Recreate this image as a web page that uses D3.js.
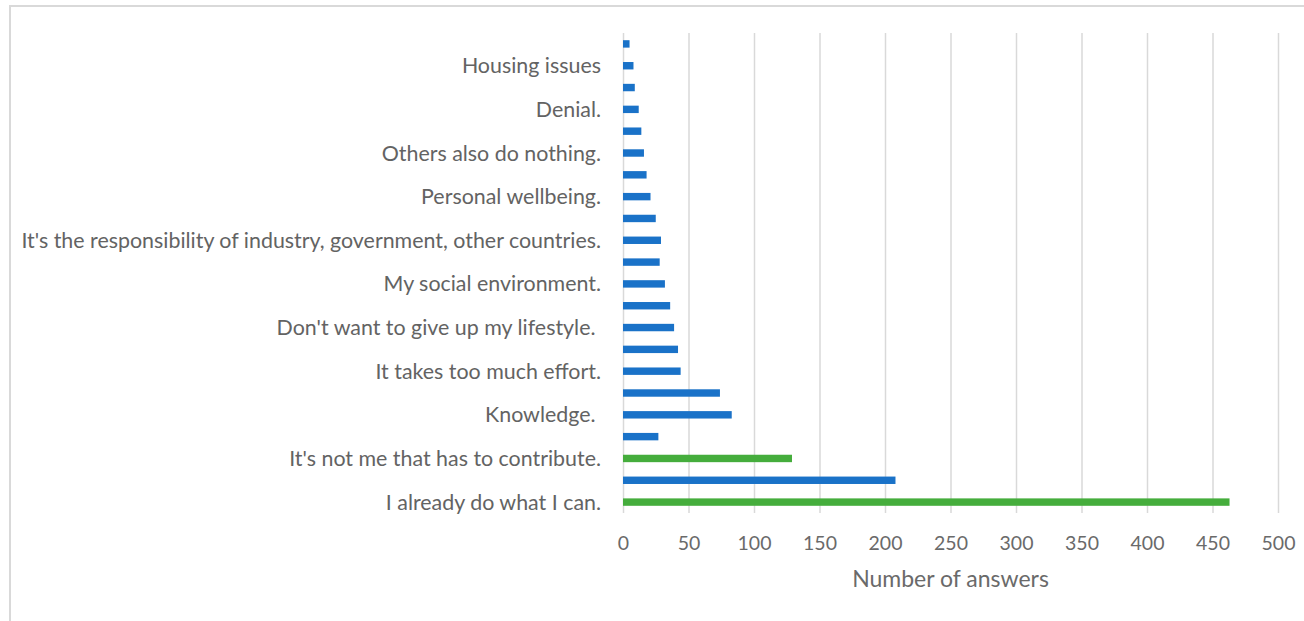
<!DOCTYPE html>
<html>
<head>
<meta charset="utf-8">
<script src="https://cdn.jsdelivr.net/npm/d3@7"></script>
<style>
  body { margin: 0; background: #fff; }
  text { font-family: Lato, "Open Sans", sans-serif; fill: #636363; }
</style>
</head>
<body>
<svg id="chart" width="1304" height="621"></svg>
<script>
// categories from bottom to top, only every other one carries a visible label
const categories = [
  'I already do what I can.', '', 'It\'s not me that has to contribute.', '',
  'Knowledge. ', '', 'It takes too much effort.', '',
  'Don\'t want to give up my lifestyle. ', '', 'My social environment.', '',
  'It\'s the responsibility of industry, government, other countries.', '',
  'Personal wellbeing.', '', 'Others also do nothing.', '',
  'Denial.', '', 'Housing issues', '',
];
const answers = [463, 208, 129, 27, 83, 74, 44, 42, 39, 36, 32, 28, 29, 25, 21, 18, 16, 14, 12, 9, 8, 5];
const highlighted = [0, 2];
const xTicks = [0, 50, 100, 150, 200, 250, 300, 350, 400, 450, 500];

const svg = d3.select('#chart');
const plot = { left: 623, right: 1278, top: 33, bottom: 513 };

// outer frame, cut off on the right and bottom
svg.append('rect')
  .attr('x', 10)
  .attr('y', 6)
  .attr('width', 1320)
  .attr('height', 640)
  .attr('fill', 'none')
  .attr('stroke', '#d9d9d9')
  .attr('stroke-width', 2);

const x = d3.scaleLinear().domain([0, 500]).range([plot.left, plot.right]);
const y = d3.scaleBand()
  .domain(d3.range(categories.length))
  .range([plot.bottom, plot.top])
  .paddingInner(0.66)
  .paddingOuter(0.33);

// gridlines + tick labels
const xAxis = d3.axisBottom(x)
  .tickValues(xTicks)
  .tickSizeInner(-(plot.bottom - plot.top))
  .tickSizeOuter(0);

const gx = svg.append('g')
  .attr('transform', `translate(0, ${plot.bottom})`)
  .call(xAxis);

gx.select('.domain').remove();
gx.selectAll('.tick line')
  .attr('stroke', '#d9d9d9')
  .attr('stroke-width', 1.5);
gx.selectAll('.tick text')
  .attr('y', 37)
  .attr('dy', null)
  .style('font-size', '19.5px')
  .style('fill', '#6a6a6a');

// bars
svg.append('g')
  .selectAll('rect')
  .data(answers)
  .enter().append('rect')
  .attr('x', x(0))
  .attr('y', (d, i) => y(i))
  .attr('height', y.bandwidth())
  .attr('width', d => x(d) - x(0))
  .attr('fill', (d, i) => (highlighted.includes(i) ? '#45ad3c' : '#1a72c8'));

// category labels
svg.append('g')
  .selectAll('text')
  .data(categories)
  .enter().append('text')
  .attr('x', plot.left - 22)
  .attr('y', (d, i) => y(i) + (y.bandwidth() / 2) + 7.5)
  .attr('text-anchor', 'end')
  .style('font-size', '21.4px')
  .style('white-space', 'pre')
  .text(d => d);

// axis title
svg.append('text')
  .attr('x', (plot.left + plot.right) / 2)
  .attr('y', 587)
  .attr('text-anchor', 'middle')
  .style('font-size', '23px')
  .style('fill', '#6a6a6a')
  .text('Number of answers');
</script>
</body>
</html>
